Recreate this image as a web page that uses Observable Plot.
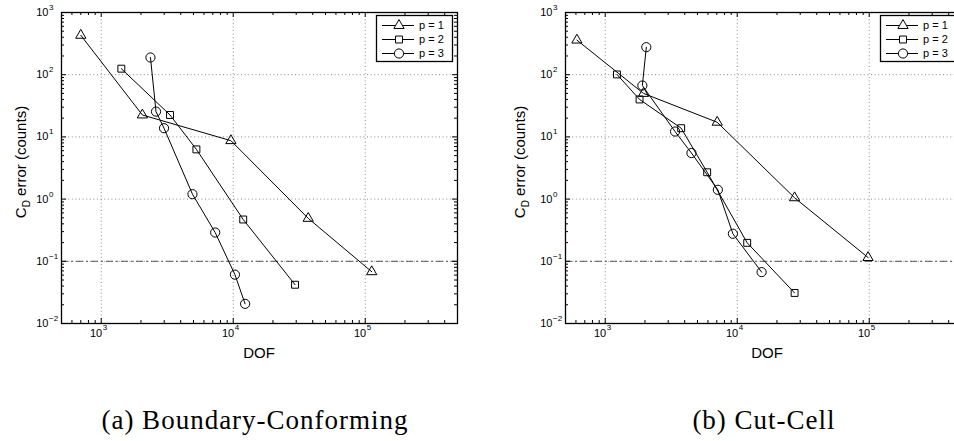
<!DOCTYPE html>
<html><head><meta charset="utf-8">
<script src="https://cdn.jsdelivr.net/npm/d3@7"></script>
<script src="https://cdn.jsdelivr.net/npm/@observablehq/plot@0.6"></script>
<style>
html,body{margin:0;padding:0;background:#fff;overflow:hidden;width:954px;height:441px;}
#wrap{position:relative;width:954px;height:441px;overflow:hidden;background:#fff;}
.panel{position:absolute;top:0;width:504px;height:370px;}
.panel svg{max-width:none !important;display:block;}
.cap{position:absolute;font-family:"Liberation Serif","Times New Roman",serif;font-size:27px;line-height:27px;text-align:center;white-space:nowrap;color:#000;}
</style>
</head><body>
<div id="wrap">
  <div id="pa" class="panel" style="left:0px"></div>
  <div id="pb" class="panel" style="left:504px"></div>
  <div class="cap" id="capA" style="left:0px;width:510px;top:407px;letter-spacing:1px">(a) Boundary-Conforming</div>
  <div class="cap" id="capB" style="left:510px;width:508px;top:407px;letter-spacing:1px">(b) Cut-Cell</div>
</div>
<script>
// ---------- data ----------
const seriesNames = ["p = 1", "p = 2", "p = 3"];
const seriesSymbols = ["triangle", "square", "circle"];

// (a) Boundary-Conforming
const bcDofP1 = [700, 2050, 9600, 37000, 112000];
const bcErrP1 = [430, 22.5, 8.7, 0.49, 0.068];
const bcDofP2 = [1420, 3320, 5260, 11900, 29400];
const bcErrP2 = [125, 22.5, 6.3, 0.47, 0.042];
const bcDofP3 = [2360, 2600, 2990, 4910, 7300, 10300, 12300];
const bcErrP3 = [189, 25.5, 13.8, 1.2, 0.29, 0.061, 0.0207];

// (b) Cut-Cell
const ccDofP1 = [610, 1950, 7050, 27200, 98000];
const ccErrP1 = [360, 50, 17.2, 1.05, 0.115];
const ccDofP2 = [1227, 1820, 3760, 5920, 11900, 27200];
const ccErrP2 = [101, 40, 13.8, 2.7, 0.198, 0.031];
const ccDofP3 = [2047, 1911, 3380, 4500, 7130, 9270, 15300];
const ccErrP3 = [277, 67, 12.2, 5.5, 1.41, 0.277, 0.067];

const threshold = 0.1;

const xDomain = [500, 5e5];
const yDomain = [0.01, 1000];
const xMajor = [1e3, 1e4, 1e5];
const xExp = ["3", "4", "5"];
const yMajor = [1e-2, 1e-1, 1e0, 1e1, 1e2, 1e3];
const yExp = ["\u22122", "\u22121", "0", "1", "2", "3"];
const yGrid = [1e-1, 1e0, 1e1, 1e2];
const xMinor = [600, 700, 800, 900, 2000, 3000, 4000, 5000, 6000, 7000, 8000, 9000,
  20000, 30000, 40000, 50000, 60000, 70000, 80000, 90000, 200000, 300000, 400000];
const yMinor = [0.02,0.03,0.04,0.05,0.06,0.07,0.08,0.09, 0.2,0.3,0.4,0.5,0.6,0.7,0.8,0.9,
  2,3,4,5,6,7,8,9, 20,30,40,50,60,70,80,90, 200,300,400,500,600,700,800,900];

const xLabel = "DOF";
const symbolR = {triangle: 3.8, square: 3.9, circle: 4.6};

const SANS = "'Liberation Sans', Arial, Helvetica, sans-serif";

function panel(el, series, opts) {
  const W = 504, H = 370;
  const ML = 61, MR = 47, MT = 12, MB = 47;
  const marks = [
    // grid
    Plot.ruleX(xMajor, {x: d => d, stroke: "#888", strokeWidth: 1, strokeDasharray: "1,2.6"}),
    Plot.ruleY(yGrid, {y: d => d, stroke: "#888", strokeWidth: 1, strokeDasharray: "1,2.6"}),
    // threshold
    Plot.ruleY([threshold], {y: d => d, stroke: "#555", strokeWidth: 1, strokeDasharray: "7,3,2,3"}),
    // inward ticks: bottom / top
    Plot.ruleX(xMinor, {x: d => d, y1: yDomain[0], y2: yDomain[0], insetBottom: 3, stroke: "black"}),
    Plot.ruleX(xMinor, {x: d => d, y1: yDomain[1], y2: yDomain[1], insetTop: 3, stroke: "black"}),
    Plot.ruleX(xMajor, {x: d => d, y1: yDomain[0], y2: yDomain[0], insetBottom: 5, stroke: "black"}),
    Plot.ruleX(xMajor, {x: d => d, y1: yDomain[1], y2: yDomain[1], insetTop: 5, stroke: "black"}),
    // inward ticks: left / right
    Plot.ruleY(yMinor, {y: d => d, x1: xDomain[0], x2: xDomain[0], insetLeft: 3, stroke: "black"}),
    Plot.ruleY(yMinor, {y: d => d, x1: xDomain[1], x2: xDomain[1], insetRight: 3, stroke: "black"}),
    Plot.ruleY(yMajor, {y: d => d, x1: xDomain[0], x2: xDomain[0], insetLeft: 5, stroke: "black"}),
    Plot.ruleY(yMajor, {y: d => d, x1: xDomain[1], x2: xDomain[1], insetRight: 5, stroke: "black"}),
    Plot.frame({stroke: "black", strokeWidth: 1.3}),
    // tick labels
    Plot.axisX(xMajor, {anchor: "bottom", tickSize: 0, tickPadding: 6, tickFormat: () => "10",
      textAnchor: "end", dx: 1, fontSize: 11, label: null}),
    Plot.axisX(xMajor, {anchor: "bottom", tickSize: 0, tickPadding: 6, tickFormat: d => xExp[xMajor.indexOf(d)],
      textAnchor: "start", dx: 1.5, dy: -5, fontSize: 8, label: null}),
    Plot.axisY(yMajor, {anchor: "left", tickSize: 0, tickPadding: 13, tickFormat: () => "10",
      fontSize: 11, label: null}),
    Plot.axisY(yMajor, {anchor: "left", tickSize: 0, tickPadding: 13, tickFormat: d => yExp[yMajor.indexOf(d)],
      textAnchor: "start", dx: 0.5, dy: -5, fontSize: 8, label: null})
  ];
  series.forEach((s, k) => {
    const data = d3.zip(s.dof, s.err);
    marks.push(Plot.line(data, {x: d => d[0], y: d => d[1], stroke: "black", strokeWidth: 1}));
    marks.push(Plot.dot(data, {x: d => d[0], y: d => d[1], symbol: seriesSymbols[k],
      r: symbolR[seriesSymbols[k]], stroke: "black", fill: "none", strokeWidth: 1}));
  });
  const chart = Plot.plot({
    width: W, height: H,
    marginLeft: ML, marginRight: MR, marginTop: MT, marginBottom: MB,
    x: {type: "log", domain: xDomain, label: null},
    y: {type: "log", domain: yDomain, label: null},
    style: {fontFamily: SANS, fontSize: "11px", background: "white", color: "black", overflow: "visible", maxWidth: "none"},
    marks
  });
  el.appendChild(chart);
  const svg = d3.select(chart);

  // y label
  const yl = svg.append("text")
    .attr("transform", `translate(${opts.ylabX},162) rotate(-90)`)
    .attr("text-anchor", "middle")
    .attr("font-family", SANS).attr("font-size", 15).attr("fill", "black");
  yl.append("tspan").text("C");
  yl.append("tspan").attr("dy", 4).attr("font-size", 10).text("D");
  yl.append("tspan").attr("dy", -4).text(" error (counts)");

  // x label
  svg.append("text").attr("x", opts.xlabX).attr("y", 358)
    .attr("text-anchor", "middle").attr("font-family", SANS).attr("font-size", 15)
    .attr("fill", "black").text(xLabel);

  // legend
  const lg = svg.append("g").attr("font-family", SANS).attr("font-size", 11).attr("text-anchor", "start");
  lg.append("rect").attr("x", 376.5).attr("y", 15.5).attr("width", 76).attr("height", 46)
    .attr("fill", "white").attr("stroke", "black").attr("stroke-width", 1.3);
  const rows = [25.5, 39.5, 53.5];
  seriesNames.forEach((name, k) => {
    const y = rows[k];
    lg.append("line").attr("x1", 382).attr("x2", 414).attr("y1", y).attr("y2", y)
      .attr("stroke", "black");
    const sym = {triangle: d3.symbolTriangle, square: d3.symbolSquare, circle: d3.symbolCircle}[seriesSymbols[k]];
    const r = symbolR[seriesSymbols[k]];
    lg.append("path").attr("transform", `translate(399,${y})`)
      .attr("d", d3.symbol(sym, Math.PI * r * r)())
      .attr("fill", "white").attr("stroke", "black");
    lg.append("text").attr("x", 419).attr("y", y).attr("dy", "0.35em")
      .attr("text-anchor", "start").attr("fill", "black").text(name);
  });
}

panel(document.getElementById("pa"), [
  {dof: bcDofP1, err: bcErrP1}, {dof: bcDofP2, err: bcErrP2}, {dof: bcDofP3, err: bcErrP3}
], {ylabX: 26, xlabX: 259});
panel(document.getElementById("pb"), [
  {dof: ccDofP1, err: ccErrP1}, {dof: ccDofP2, err: ccErrP2}, {dof: ccDofP3, err: ccErrP3}
], {ylabX: 21, xlabX: 263});
</script>
</body></html>
